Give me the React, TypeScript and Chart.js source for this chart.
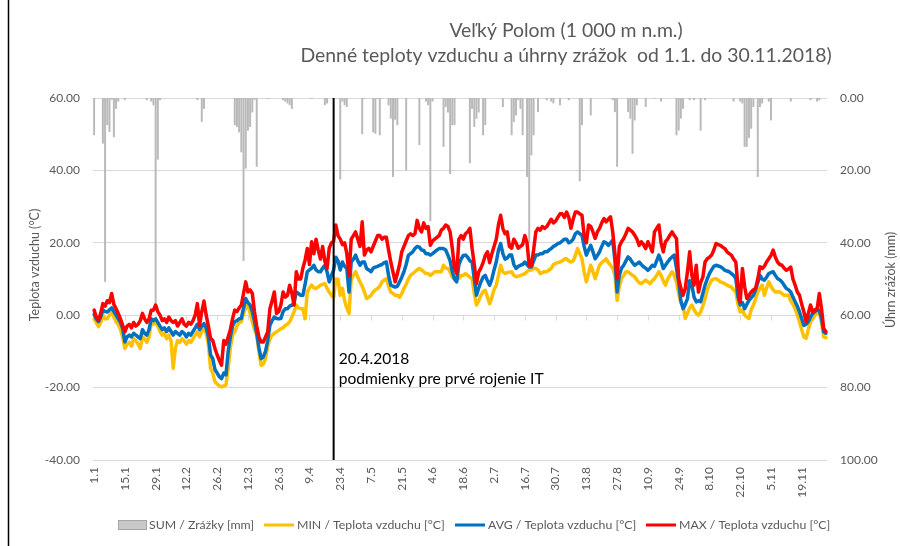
import React, { useEffect, useRef } from 'react';
import { Chart, registerables } from 'chart.js';

Chart.register(...registerables);

const TITLE_LINES = ['Veľký Polom (1 000 m n.m.)', 'Denné teploty vzduchu a úhrny zrážok  od 1.1. do 30.11.2018)'];
const Y_LEFT_TITLE = 'Teplota vzduchu (°C)';
const Y_RIGHT_TITLE = 'Úhrn zrážok (mm)';
const ANNOTATION_DATE = '20.4';
const ANNOTATION_TEXT = ['20.4.2018', 'podmienky pre prvé rojenie IT'];

// days per month, Jan..Nov 2018 -> category labels "D.M"
const MONTH_LENGTHS = [31, 28, 31, 30, 31, 30, 31, 31, 30, 31, 30];
const TICK_LABELS = ['1.1', '15.1', '29.1', '12.2', '26.2', '12.3', '26.3', '9.4', '23.4', '7.5', '21.5', '4.6', '18.6', '2.7', '16.7', '30.7', '13.8', '27.8', '10.9', '24.9', '8.10', '22.10', '5.11', '19.11'];
const DAYS: string[] = MONTH_LENGTHS.flatMap((n, m) => Array.from({ length: n }, (_, d) => `${d + 1}.${m + 1}`));

const LEFT_TICKS = [-40, -20, 0, 20, 40, 60];
const RIGHT_TICKS = [0, 20, 40, 60, 80, 100];

// daily precipitation [mm], 14 days per row
const SUM_MM = [
  10.3, 0, 0, 0, 12.6, 50.8, 7.5, 9.4, 0.5, 10.8, 3, 1, 0, 0,
  0.6, 0, 0, 0, 0, 0, 0, 0, 0, 0, 0.6, 0, 1, 2,
  57, 17, 0.6, 0, 0, 0, 0, 0, 0, 0, 0, 0, 0, 0,
  0, 0, 0, 0, 0, 0.6, 0, 6.6, 3, 0, 0, 0, 0, 0,
  0, 0, 0, 0, 0, 0, 0, 0, 7.5, 8, 9.5, 15, 45, 19.5,
  9, 8, 4, 0.5, 19, 0, 0, 0, 0, 0.3, 0, 0, 0, 0,
  0, 0, 0.6, 1, 1.5, 2, 3, 0, 0, 0, 0, 0, 0, 0,
  0, 0.3, 0, 0, 0, 0, 0, 2, 1.5, 0, 0, 0, 0, 0,
  22.5, 1, 2, 2.5, 0, 0, 0, 0, 0, 0, 10, 0.3, 0, 0,
  0, 9.5, 9.9, 0.3, 10.3, 0, 0, 0, 2, 5.7, 21.8, 6, 7.5, 0,
  0, 0, 20, 0, 0, 0, 0, 0, 13, 0, 0, 1, 2, 34,
  1, 0, 0, 0, 0, 13.5, 2.5, 4, 21, 7.5, 7.5, 0, 0, 0,
  0, 0, 0, 18, 3, 8, 5.7, 4, 0, 10.3, 7.5, 0, 0, 0,
  0, 0, 0, 0, 2.5, 0, 0, 0, 10.3, 6.6, 4.8, 0.6, 3, 10.3,
  0, 21.8, 40, 15.8, 10.3, 0, 3.9, 0, 0, 0, 0.6, 0, 1, 1.5,
  0, 0, 2, 0, 0, 0, 0.6, 0, 0, 0, 0, 23, 7.5, 0,
  0, 0, 4.8, 0, 0, 0, 0, 0, 0, 0, 0, 0, 0.6, 3.9,
  19, 0, 0, 0, 0, 3.9, 5.7, 15.4, 6.2, 2, 0, 0, 0, 2.5,
  0, 0, 0, 0.2, 0, 0, 1, 0, 0, 0, 0, 0, 0, 10.3,
  9, 5.7, 3, 0, 0, 0.6, 0, 0.6, 0, 0, 9, 0, 0.6, 0,
  0, 0, 0, 0, 0, 0, 0, 0, 0, 0, 0, 1, 0, 0,
  1, 1.5, 13.5, 13.5, 11, 8.5, 2.5, 0, 21.8, 2.5, 1.5, 0, 0, 1,
  6.2, 0, 0, 0, 0, 0, 0, 0, 0, 1, 0, 0, 0, 0,
  0, 0, 0, 0, 0.6, 0, 0, 1, 0.6, 0, 0, 0,
];

// daily minimum temperature [°C]
const MIN_T = [
  -1, -2, -3.2, -2, 0, -1, -1, 0, 1, -0.5, -1.8, -2.5, -4, -6,
  -9.2, -8, -7.5, -8.5, -6.5, -7, -8, -9.2, -6, -6.5, -7.5, -6, -2, -2.5,
  -2, -3, -4.5, -5.5, -5, -6.5, -5.5, -7, -14.7, -9, -7, -7.5, -6.5, -7,
  -8, -7, -7.5, -6.5, -5.5, -4.6, -6, -4.5, -3.2, -5, -8, -14.7, -16, -18.4,
  -19, -19.5, -19.8, -19.5, -19.3, -14.7, -9, -5.5, -4.6, -3, -2, -1.8, 0.5, 2,
  2.8, 0.5, -1.8, -4, -5.5, -10, -13.8, -13.5, -12, -8.5, -6.5, -5.5, -5, -4.6,
  -4.2, -3.7, -3.5, -2.8, -2.5, -1.8, -0.5, 1, 2.8, 2, 1.8, 1.8, -1, 6.4,
  7.5, 8.3, 7.5, 7.4, 7.8, 8.3, 8.5, 8.7, 7.5, 6.4, 5.5, 5, 10, 10,
  5.5, 7.4, 4, 2, 0.5, 10, 11, 12, 10.5, 9.2, 8, 6.4, 4.6, 5,
  5.5, 6.4, 7, 7.4, 8, 9.2, 9.7, 10.1, 8, 6.4, 6, 5.5, 5.5, 5,
  6, 7.4, 8.5, 10, 11, 11.5, 12, 12.5, 12.9, 12.5, 12, 11.5, 11.5, 11,
  11.5, 12, 12, 12, 12, 13.8, 13, 12.9, 12, 10.5, 10, 10, 10.1, 11,
  11, 11.5, 11, 10.5, 10, 6, 2.8, 4, 5.5, 6.5, 6.9, 5, 3.2, 5,
  7, 8.3, 11, 13.8, 12, 11.5, 11.8, 11.9, 12, 11, 10.6, 10.8, 11, 11.2,
  11.5, 12, 12.5, 12.5, 13, 12.9, 12.5, 11.5, 11.8, 12, 12, 12.5, 12.9, 14,
  14.3, 14.5, 14.7, 15, 15.5, 15.6, 15, 14.7, 15, 16.5, 18.4, 17, 15.6, 12,
  9.2, 11.5, 13.8, 12, 10.1, 12, 13.8, 14.5, 15, 15.6, 14.5, 13.8, 13, 11,
  4.1, 8, 10.1, 11, 12, 12, 11.5, 11, 10.6, 9.7, 9, 8.7, 9.2, 9.7,
  9.2, 8.7, 9.5, 10.1, 11, 12, 11, 9.5, 8.3, 10, 11, 12, 11, 9.2,
  6, 3.5, 2.8, -0.9, 0.5, 2, 2.8, 1.5, 0.5, 0, 0.9, 2.5, 4.6, 7,
  8.5, 9.7, 10, 10.1, 9.7, 9.2, 9, 8.7, 8.3, 8, 7.8, 7, 6.4, 3,
  0.9, 1.5, 0, -0.5, -0.9, 1.5, 2.8, 4.5, 6.4, 7.5, 8.3, 5.5, 7.5, 9.2,
  8, 7, 6.4, 6.5, 6.4, 6, 5.5, 5.5, 5.5, 4, 3, 1.8, 0, -1.8,
  -4, -6, -6.4, -4, -1.8, -1, 0, 0.5, 0.9, -2, -6, -6.2,
];

// daily average temperature [°C]
const AVG_T = [
  0.2, -1, -1.8, -0.5, 1.5, 1, 0.9, 1.5, 2, 1, 0, -1, -2, -3.7,
  -7.4, -6, -5.5, -6, -5, -5.5, -6, -6.5, -4, -5, -5.5, -4, -1, -1.5,
  -1, -2, -3, -4, -3.5, -4.5, -3.5, -4.5, -5.5, -4.5, -5, -5.5, -4.5, -5,
  -6, -5, -5.5, -4.5, -3.5, -2.5, -4, -3, -2.3, -3.5, -6, -11, -12, -15,
  -16, -17, -17.5, -16, -16.5, -10, -6, -3, -1.8, -1.5, -1, -0.9, 2, 4.6,
  3.5, 2.8, 1, -1.8, -5, -9, -12, -11.5, -10, -7, -2.8, -1.5, -0.5, -0.9,
  -1, -0.9, 1, 1.8, 1.8, 2.5, 2.8, 3.5, 6.4, 6, 5.5, 5.5, 8.5, 12,
  12.5, 13, 13.8, 12.5, 12, 12, 13, 13.8, 12, 9.2, 11, 12.5, 16, 15,
  12.5, 14.7, 13.5, 12.9, 6.4, 14.7, 15.5, 16.6, 15, 13.8, 14.7, 14.7, 12.9, 12.5,
  12, 13, 13.3, 13.5, 13.8, 14, 14.5, 14.7, 11, 8.3, 8, 7.8, 8, 9.2,
  10.5, 12, 14, 16.5, 17, 17.5, 18.4, 19, 18.8, 18, 17.9, 17, 17, 16.6,
  17, 17.5, 18, 18.4, 18.4, 18.4, 18, 16.6, 15, 12, 10, 9.2, 14, 15.5,
  16.5, 16.6, 16, 15, 14.7, 10, 5.5, 7.5, 9.2, 10.5, 11, 9.5, 8.3, 10,
  12.5, 14.7, 18, 19.8, 17, 15.5, 15.8, 16.6, 16.6, 14, 12.9, 13.5, 13.8, 14,
  14.7, 14, 13.3, 13.3, 15, 16.6, 16.6, 17, 17, 17.5, 17.5, 18, 18.4, 19,
  19.3, 19.8, 20, 20.5, 21, 21, 20, 20.3, 21, 22.5, 23, 22.5, 22.1, 19,
  16.6, 18, 19.3, 17.5, 15.6, 16.5, 17.5, 19, 20.3, 20, 19.3, 20, 20.7, 15,
  6.4, 11, 13, 13.8, 15, 16.1, 15.5, 14.5, 13.8, 14.2, 14.7, 14, 13.4, 13,
  12.4, 13, 13.8, 13.5, 15, 16.6, 15, 12.9, 13.8, 14.7, 15.5, 16.1, 16.6, 13,
  9.2, 4, 1.8, 3, 4.6, 9.5, 8.3, 5, 3.7, 4, 3.7, 6, 8.3, 10,
  11.5, 12.5, 13.5, 13.8, 13.6, 13.4, 13, 12.4, 12.2, 12, 11.5, 11, 10.1, 5,
  2.8, 3.5, 1.8, 3, 4.1, 4.8, 5.5, 7, 9, 11, 10, 9.7, 10.5, 11.5,
  11.8, 12, 11, 10.1, 9.8, 9.2, 8.3, 7.4, 7, 6.4, 5, 3.7, 2.5, 0.9,
  -1, -2.8, -2.5, -1.8, -0.5, 0.5, 1, 1.4, 1.4, -0.9, -4.6, -5,
];

// daily maximum temperature [°C]
const MAX_T = [
  1.4, -0.5, -1.4, 0.5, 3.2, 2.5, 4, 3.5, 6, 3, 1.8, 0.5, -1, -2.8,
  -4.6, -3, -2.5, -3.5, -2, -3, -2.5, -1.5, 0.5, -1, -2, -1, 1.4, 1.4,
  2.8, 1, 0, -1.5, -1, -2, -0.5, -1.5, -2, -1.5, -3, -2, -1, -2.5,
  -3, -2, -2.5, -1.5, 0, 3.2, -2.8, 1, 3.9, 0, -3, -6.4, -7, -9.2,
  -11, -12.5, -13.8, -7, -8, -6, -4, -1, 1.4, 1, 2, 2.8, 6, 9.2,
  6.4, 7, 6, 0.9, -3, -6, -7.4, -7.4, -6, -4.6, 1.8, 4, 6.4, 0.5,
  1, 2.8, 6.4, 5, 5.5, 8.3, 6, 2.8, 12, 10, 10, 13, 15.2, 18.4,
  14, 20.3, 17, 21, 18, 15.5, 19, 15, 12.9, 18.5, 20, 20.5, 24.9, 22,
  21, 19.5, 20, 17, 11, 21, 22, 23, 21, 19, 25.8, 16.6, 18, 18.5,
  17.5, 19, 20.5, 22, 22, 21, 21.5, 21.5, 18, 14.7, 12, 9.2, 11.5, 14,
  17.5, 19, 20.5, 22, 22.5, 22, 22.5, 26.2, 24, 23, 25.5, 24, 24.5, 19.3,
  20.5, 21, 21.5, 22, 23.5, 24, 24.9, 24.5, 23, 18.5, 13, 11.5, 21, 22,
  21, 22.5, 23, 24, 18.5, 14, 8.7, 11.9, 13, 14.5, 16.5, 17.5, 14.5, 17,
  19, 21, 25, 27.6, 24, 22.5, 23, 19, 18.5, 21, 20, 18.5, 19, 19.5,
  22, 20, 13.8, 13.8, 18, 23, 24, 23.5, 24.5, 24, 24.5, 25.5, 26.5, 25.5,
  26, 27, 28, 28, 27, 28.5, 27, 24, 26.5, 28.5, 28.5, 28, 27.6, 22,
  20, 24.9, 24.5, 23, 21.2, 23, 24, 25.5, 26.7, 25.8, 26.5, 27.2, 23, 17,
  10.1, 19, 20.3, 21.2, 22.5, 24, 23.5, 23, 22.1, 21, 19.3, 20.3, 19.5, 18.4,
  20.3, 19, 17.5, 23, 24, 24.9, 20, 17.5, 20.3, 21, 22.1, 23, 22, 21.2,
  10.1, 7.5, 5.5, 7.4, 12, 17.5, 11, 8.3, 13.8, 6.4, 9, 10.5, 14.7, 15.6,
  16, 16.6, 18, 19.8, 19.5, 19.3, 18.8, 18.4, 17.5, 17, 16.6, 15.5, 14.7, 8,
  3.7, 12.9, 8, 4.6, 5.5, 6.4, 7, 7.4, 10, 13.4, 12.9, 13.5, 14.7, 15.6,
  16.5, 18, 16, 14.7, 14, 13.8, 13, 12.4, 12.8, 13.3, 10, 8.3, 6.4, 5.5,
  3, 0.9, -1.8, 0.5, 2.8, 0.9, 1.5, 1.8, 6, 1.8, -3.7, -4.5,
];

const FONT = 'Lato, "Liberation Sans", sans-serif';
const GREY_TEXT = '#595959';
const GRID = '#d9d9d9';

const LEGEND_X = [118, 264, 455, 646];
const LEGEND_Y = 525;

const overlay = {
  id: 'overlay',
  beforeDatasetsDraw(chart: any) {
    const { ctx, chartArea, scales } = chart;
    const y0 = Math.round(scales.y.getPixelForValue(0)) + 0.5;
    ctx.save();
    ctx.strokeStyle = GRID;
    ctx.lineWidth = 1;
    ctx.beginPath();
    ctx.moveTo(chartArea.left, y0);
    ctx.lineTo(chartArea.right, y0);
    DAYS.forEach((d, i) => {
      if (TICK_LABELS.includes(d)) {
        const x = Math.round(scales.x.getPixelForValue(i)) + 0.5;
        ctx.moveTo(x, y0);
        ctx.lineTo(x, y0 + 5);
      }
    });
    ctx.stroke();
    ctx.restore();
  },
  afterDatasetsDraw(chart: any) {
    const { ctx, chartArea, scales } = chart;
    const idx = DAYS.indexOf(ANNOTATION_DATE);
    const x = scales.x.getPixelForValue(idx);
    ctx.save();
    ctx.strokeStyle = '#000';
    ctx.lineWidth = 2;
    ctx.beginPath();
    ctx.moveTo(x, chartArea.top);
    ctx.lineTo(x, chartArea.bottom);
    ctx.stroke();
    ctx.fillStyle = '#000';
    ctx.font = `15.6px ${FONT}`;
    ctx.textAlign = 'left';
    ctx.textBaseline = 'middle';
    ctx.fillText(ANNOTATION_TEXT[0], x + 5, 359);
    ctx.fillText(ANNOTATION_TEXT[1], x + 5, 379);
    ctx.restore();
  },
  afterDraw(chart: any) {
    const { ctx } = chart;
    ctx.save();
    // title
    ctx.fillStyle = GREY_TEXT;
    ctx.font = `19.4px ${FONT}`;
    ctx.textAlign = 'center';
    ctx.textBaseline = 'middle';
    ctx.fillText(TITLE_LINES[0], 566, 31);
    ctx.fillText(TITLE_LINES[1], 566, 56);
    // axis titles
    ctx.font = `12.5px ${FONT}`;
    ctx.save();
    ctx.translate(35, 265);
    ctx.rotate(-Math.PI / 2);
    ctx.fillText(Y_LEFT_TITLE, 0, 0);
    ctx.restore();
    ctx.save();
    ctx.translate(891, 280);
    ctx.rotate(-Math.PI / 2);
    ctx.fillText(Y_RIGHT_TITLE, 0, 0);
    ctx.restore();
    // legend
    ctx.font = `12.3px ${FONT}`;
    ctx.textAlign = 'left';
    chart.data.datasets.forEach((ds: any, i: number) => {
      const x = LEGEND_X[i];
      let tx: number;
      if (ds.type === 'bar') {
        ctx.fillStyle = '#c8c8c8';
        ctx.fillRect(x, LEGEND_Y - 5, 29, 10);
        ctx.strokeStyle = '#a6a6a6';
        ctx.lineWidth = 1;
        ctx.strokeRect(x + 0.5, LEGEND_Y - 4.5, 28, 9);
        tx = x + 31;
      } else {
        ctx.strokeStyle = ds.borderColor;
        ctx.lineWidth = 3;
        ctx.beginPath();
        ctx.moveTo(x, LEGEND_Y);
        ctx.lineTo(x + 30, LEGEND_Y);
        ctx.stroke();
        tx = x + 33;
      }
      ctx.fillStyle = GREY_TEXT;
      ctx.fillText(ds.label, tx, LEGEND_Y);
    });
    // frame line on the left
    ctx.strokeStyle = '#000';
    ctx.lineWidth = 1.5;
    ctx.beginPath();
    ctx.moveTo(8.5, 0);
    ctx.lineTo(8.5, 546);
    ctx.stroke();
    ctx.restore();
  },
};

const lineStyle = {
  type: 'line',
  yAxisID: 'y',
  borderWidth: 3.5,
  pointRadius: 0,
  borderJoinStyle: 'round',
  borderCapStyle: 'round',
  tension: 0,
};

export default function App() {
  const ref = useRef<HTMLCanvasElement>(null);
  useEffect(() => {
    const canvas = ref.current;
    if (!canvas) return;
    const chart = new Chart(canvas, {
      type: 'bar',
      data: {
        labels: DAYS,
        datasets: [
          {
            type: 'bar',
            label: 'SUM / Zrážky [mm]',
            data: SUM_MM,
            yAxisID: 'y1',
            backgroundColor: '#b9b9b9',
            borderWidth: 0,
            barPercentage: 0.9,
            categoryPercentage: 1,
            order: 4,
          },
          { ...lineStyle, label: 'MIN / Teplota vzduchu [°C]', data: MIN_T, borderColor: '#ffc000', backgroundColor: '#ffc000', order: 3 },
          { ...lineStyle, label: 'AVG / Teplota vzduchu [°C]', data: AVG_T, borderColor: '#0070c0', backgroundColor: '#0070c0', order: 2 },
          { ...lineStyle, label: 'MAX / Teplota vzduchu [°C]', data: MAX_T, borderColor: '#ff0000', backgroundColor: '#ff0000', order: 1 },
        ],
      } as any,
      options: {
        responsive: false,
        animation: false,
        events: [],
        layout: { padding: { top: 98, bottom: 40, left: 0, right: 0 } },
        plugins: {
          legend: { display: false },
          tooltip: { enabled: false },
          title: { display: false },
        },
        scales: {
          x: {
            type: 'category',
            offset: true,
            grid: { display: false, drawTicks: false },
            border: { display: false },
            ticks: {
              autoSkip: false,
              minRotation: 90,
              maxRotation: 90,
              padding: 7,
              color: GREY_TEXT,
              font: { family: FONT, size: 12 },
              callback: (_v: any, i: number) => (TICK_LABELS.includes(DAYS[i]) ? DAYS[i] : null),
            },
            afterFit: (s: any) => {
              s.height = 46;
            },
          },
          y: {
            position: 'left',
            min: LEFT_TICKS[0],
            max: LEFT_TICKS[LEFT_TICKS.length - 1],
            grid: { color: GRID, drawTicks: false, lineWidth: 1 },
            border: { display: false },
            ticks: {
              stepSize: 20,
              padding: 13,
              color: GREY_TEXT,
              font: { family: FONT, size: 12 },
              callback: (v: any) => Number(v).toFixed(2),
            },
            afterFit: (s: any) => {
              s.width = 93;
            },
          },
          y1: {
            position: 'right',
            min: RIGHT_TICKS[0],
            max: RIGHT_TICKS[RIGHT_TICKS.length - 1],
            reverse: true,
            grid: { display: false, drawTicks: false },
            border: { display: false },
            ticks: {
              stepSize: 20,
              padding: 13,
              color: GREY_TEXT,
              font: { family: FONT, size: 12 },
              callback: (v: any) => Number(v).toFixed(2),
            },
            afterFit: (s: any) => {
              s.width = 73;
            },
          },
        },
      } as any,
      plugins: [overlay],
    });
    return () => chart.destroy();
  }, []);

  return (
    <div style={{ position: 'absolute', left: 0, top: 0, width: 900, height: 546, background: '#ffffff' }}>
      <canvas ref={ref} width={900} height={546} style={{ display: 'block', width: 900, height: 546 }} />
    </div>
  );
}
